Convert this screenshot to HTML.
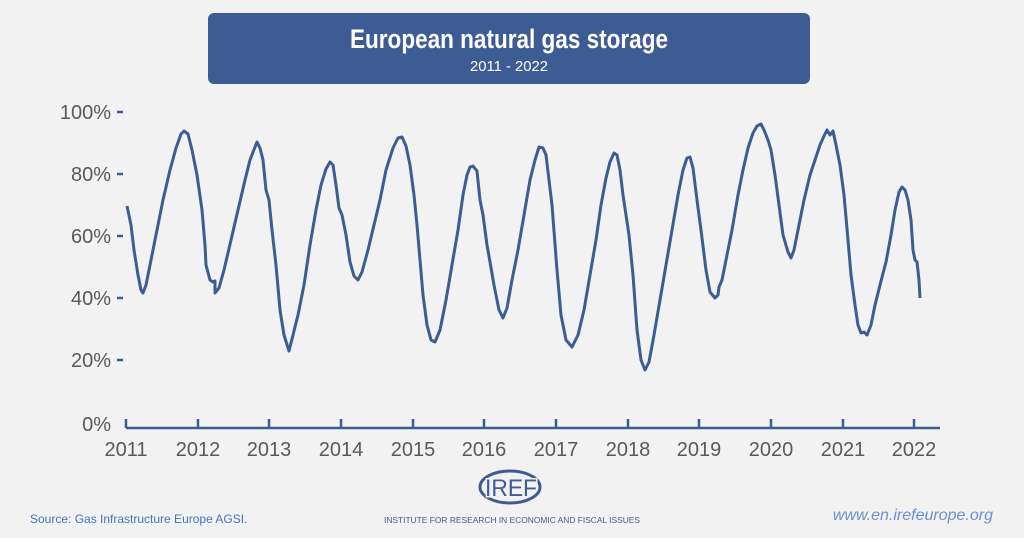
<!DOCTYPE html>
<html><head><meta charset="utf-8"><style>
html,body{margin:0;padding:0;background:#f2f2f2;}
svg{display:block;font-family:"Liberation Sans",sans-serif;}
</style></head><body>
<svg width="1024" height="538" viewBox="0 0 1024 538" xmlns="http://www.w3.org/2000/svg">
<rect width="1024" height="538" fill="#f2f2f2"/>
<rect x="208" y="13" width="602" height="71" rx="6" fill="#3d5c93"/>
<text x="509" y="48" text-anchor="middle" fill="#fff" font-size="27" font-weight="bold" textLength="318" lengthAdjust="spacingAndGlyphs">European natural gas storage</text>
<text x="509" y="71" text-anchor="middle" fill="#fff" font-size="15" textLength="78" lengthAdjust="spacingAndGlyphs">2011 - 2022</text>
<g fill="#595959" font-size="20" text-anchor="end">
<text x="111" y="119">100%</text><text x="111" y="181">80%</text><text x="111" y="243">60%</text>
<text x="111" y="305">40%</text><text x="111" y="367">20%</text><text x="111" y="431">0%</text>
</g>
<g stroke="#3d5c93" stroke-width="2.5">
<line x1="117" y1="112" x2="123" y2="112"/><line x1="117" y1="174" x2="123" y2="174"/>
<line x1="117" y1="236" x2="123" y2="236"/><line x1="117" y1="298" x2="123" y2="298"/>
<line x1="117" y1="360" x2="123" y2="360"/>
<line x1="126" y1="428" x2="940" y2="428"/>
<line x1="126" y1="419" x2="126" y2="428"/><line x1="198" y1="419" x2="198" y2="428"/>
<line x1="269" y1="419" x2="269" y2="428"/><line x1="341" y1="419" x2="341" y2="428"/>
<line x1="413" y1="419" x2="413" y2="428"/><line x1="484" y1="419" x2="484" y2="428"/>
<line x1="556" y1="419" x2="556" y2="428"/><line x1="628" y1="419" x2="628" y2="428"/>
<line x1="699" y1="419" x2="699" y2="428"/><line x1="771" y1="419" x2="771" y2="428"/>
<line x1="843" y1="419" x2="843" y2="428"/><line x1="914" y1="419" x2="914" y2="428"/>
</g>
<g fill="#595959" font-size="20" text-anchor="middle">
<text x="126" y="456">2011</text><text x="198" y="456">2012</text><text x="269" y="456">2013</text>
<text x="341" y="456">2014</text><text x="413" y="456">2015</text><text x="484" y="456">2016</text>
<text x="556" y="456">2017</text><text x="628" y="456">2018</text><text x="699" y="456">2019</text>
<text x="771" y="456">2020</text><text x="843" y="456">2021</text><text x="914" y="456">2022</text>
</g>
<polyline fill="none" stroke="#3d5c93" stroke-width="3" stroke-linejoin="round" points="127,206 131,225 134,250 138,275 141,290 143,293 146,285 150,265 156,235 163,200 170,170 176,148 181,134 184,131 188,134 192,150 197,175 202,210 205,245 206,265 210,280 213,282 215,281 215,293 219,288 224,270 231,240 238,210 245,180 250,160 255,147 257,142 260,148 263,160 266,190 269,200 272,230 276,265 280,310 284,335 289,351 293,335 298,315 304,285 310,245 316,210 321,185 326,169 330,162 333,165 336,185 339,208 342,215 346,235 350,262 354,276 358,280 362,272 368,250 374,225 380,200 386,170 393,148 398,138 402,137 406,146 410,165 414,195 417,225 420,260 423,295 427,325 431,340 435,342 440,330 446,300 452,265 458,230 463,195 467,175 470,167 473,166 477,171 480,200 483,215 487,245 490,262 494,285 499,310 503,318 507,308 512,280 518,250 524,215 530,180 535,160 539,147 543,148 546,155 549,180 552,205 557,270 561,315 566,340 572,347 578,335 584,310 590,275 596,240 601,205 606,178 610,162 614,153 617,155 620,170 623,195 626,215 629,235 633,275 637,330 641,360 645,370 649,362 654,335 660,300 666,265 672,230 678,195 683,170 687,158 690,157 693,168 697,200 701,230 706,270 710,292 715,298 718,295 719,287 722,280 726,260 732,230 738,195 743,170 748,148 753,133 757,126 761,124 764,130 768,140 771,150 775,175 779,205 783,235 788,252 791,258 794,250 798,230 804,200 810,175 815,160 820,145 824,136 827,130 830,135 833,131 836,145 840,165 844,195 848,240 851,275 855,305 858,325 861,333 864,332 867,335 871,325 875,305 880,285 886,262 891,235 895,210 899,192 902,187 905,190 908,200 911,220 913,250 915,260 917,262 919,280 920,298"/>
<g>
<ellipse cx="510" cy="487" rx="30" ry="16" fill="none" stroke="#3d5c93" stroke-width="3"/>
<text x="511" y="496" text-anchor="middle" font-size="24" fill="#3d5c93" textLength="52" lengthAdjust="spacingAndGlyphs" style="paint-order:stroke" stroke="#f2f2f2" stroke-width="3">IREF</text>
</g>
<text x="512" y="523" text-anchor="middle" font-size="8.5" fill="#3d5c93" textLength="256" lengthAdjust="spacingAndGlyphs">INSTITUTE FOR RESEARCH IN ECONOMIC AND FISCAL ISSUES</text>
<text x="30" y="523" font-size="12" fill="#4472c4">Source: Gas Infrastructure Europe AGSI.</text>
<text x="993" y="520" text-anchor="end" font-size="16" font-style="italic" fill="#6b8fd0">www.en.irefeurope.org</text>
</svg>
</body></html>
